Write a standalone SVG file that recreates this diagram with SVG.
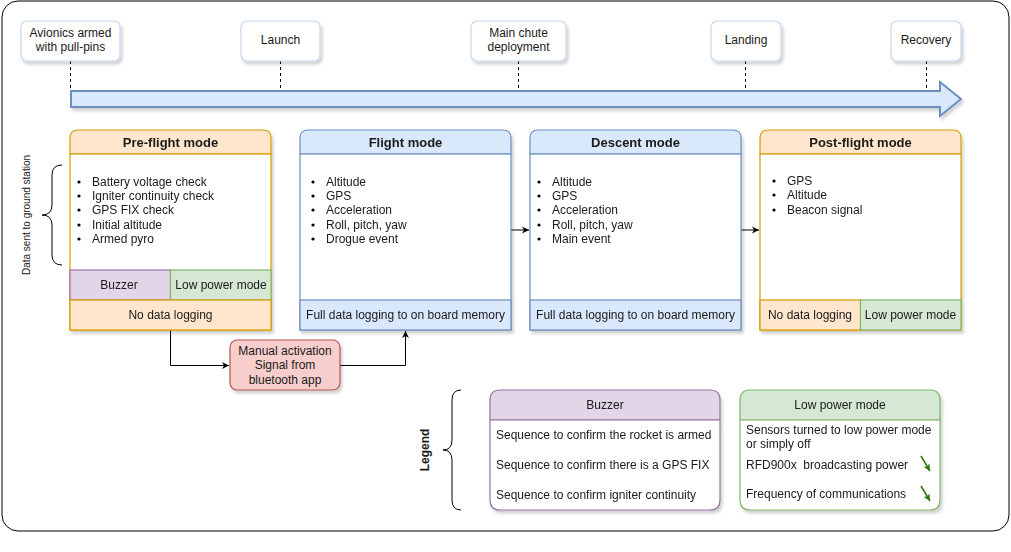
<svg xmlns="http://www.w3.org/2000/svg" width="1011" height="552" viewBox="0 0 1011 552">
<style>
text{font-family:"Liberation Sans",Arial,sans-serif;fill:#1a1a1a;font-size:12px}
.c{text-anchor:middle}
.t{font-weight:bold;font-size:13px;text-anchor:middle}
.ev{fill:#fff;stroke:#c5d9f1;stroke-width:1.2}
.o{fill:#ffe6cc;stroke:#d79b00;stroke-width:1.2}
.b{fill:#dae8fc;stroke:#6c8ebf;stroke-width:1.2}
.p{fill:#e1d5e7;stroke:#9673a6;stroke-width:1.2}
.g{fill:#d5e8d4;stroke:#82b366;stroke-width:1.2}
.dash{stroke:#000;stroke-dasharray:3,3;fill:none}
.ln{stroke:#000;fill:none;stroke-width:1}
</style>
<defs>
<filter id="sh" x="-10%" y="-10%" width="130%" height="130%">
<feDropShadow dx="2" dy="3" stdDeviation="1.5" flood-color="#000" flood-opacity="0.18"/>
</filter>
<marker id="ar" markerWidth="8" markerHeight="8" refX="7" refY="4" orient="auto" markerUnits="userSpaceOnUse">
<path d="M0,0.5 L7,4 L0,7.5 L2,4 Z" fill="#000"/>
</marker>
<marker id="ag" markerWidth="8" markerHeight="8" refX="7" refY="4" orient="auto" markerUnits="userSpaceOnUse">
<path d="M0,0.5 L7,4 L0,7.5 L2,4 Z" fill="#2d7600"/>
</marker>
</defs>
<rect x="2" y="1" width="1007" height="530" rx="16" fill="#fff" stroke="#000" stroke-width="1"/>

<g id="timeline">
<path d="M71,91 L940,91 L940,82 L961,99 L940,116 L940,107 L71,107 Z" fill="#dae8fc" stroke="#6c8ebf" stroke-width="2" filter="url(#sh)"/>
</g>

<g id="connectors">
<line class="dash" x1="70.5" y1="61" x2="70.5" y2="91"/>
<line class="dash" x1="280.5" y1="61" x2="280.5" y2="91"/>
<line class="dash" x1="518.5" y1="61" x2="518.5" y2="91"/>
<line class="dash" x1="745.5" y1="61" x2="745.5" y2="91"/>
<line class="dash" x1="926.5" y1="61" x2="926.5" y2="91"/>
<line class="ln" x1="510" y1="230" x2="529" y2="230" marker-end="url(#ar)"/>
<line class="ln" x1="740" y1="230" x2="759" y2="230" marker-end="url(#ar)"/>
<path class="ln" d="M170.5,330 L170.5,365.5 L229,365.5" marker-end="url(#ar)"/>
<path class="ln" d="M340,365.5 L405.5,365.5 L405.5,331" marker-end="url(#ar)"/>
<path class="ln" d="M62,165 Q52,165 52,175 L52,205 Q52,215 42,215 Q52,215 52,225 L52,255 Q52,265 62,265" stroke-width="1.8"/>
<path class="ln" d="M461,390 Q452,390 452,400 L452,440 Q452,450 443,450 Q452,450 452,460 L452,500 Q452,510 461,510" stroke-width="1"/>
</g>

<g id="ev-armed">
<rect class="ev" x="21" y="21" width="99" height="40" rx="6" filter="url(#sh)"/>
<text class="c" x="70.5" y="37">Avionics armed</text>
<text class="c" x="70.5" y="51">with pull-pins</text>
</g>
<g id="ev-launch">
<rect class="ev" x="241" y="21" width="79" height="40" rx="6" filter="url(#sh)"/>
<text class="c" x="280.5" y="44">Launch</text>
</g>
<g id="ev-main">
<rect class="ev" x="471" y="21" width="95" height="40" rx="6" filter="url(#sh)"/>
<text class="c" x="518.5" y="37">Main chute</text>
<text class="c" x="518.5" y="51">deployment</text>
</g>
<g id="ev-landing">
<rect class="ev" x="711" y="21" width="70" height="40" rx="6" filter="url(#sh)"/>
<text class="c" x="746" y="44">Landing</text>
</g>
<g id="ev-recovery">
<rect class="ev" x="891" y="21" width="70" height="40" rx="6" filter="url(#sh)"/>
<text class="c" x="926" y="44">Recovery</text>
</g>

<g id="preflight" filter="url(#sh)">
<path class="o" d="M70,154 L70,138 Q70,130 78,130 L263,130 Q271,130 271,138 L271,154 Z"/>
<rect x="70" y="154" width="201" height="176" fill="#fff" stroke="#d79b00" stroke-width="1.2"/>
<rect class="p" x="70" y="270" width="100.5" height="30"/>
<rect class="g" x="170.5" y="270" width="100.5" height="30"/>
<rect class="o" x="70" y="300" width="201" height="30"/>
<text class="t" x="170.5" y="147">Pre-flight mode</text>
<circle cx="79" cy="182" r="1.6" fill="#000"/><text x="92" y="186">Battery voltage check</text>
<circle cx="79" cy="196" r="1.6" fill="#000"/><text x="92" y="200">Igniter continuity check</text>
<circle cx="79" cy="210" r="1.6" fill="#000"/><text x="92" y="214">GPS FIX check</text>
<circle cx="79" cy="225" r="1.6" fill="#000"/><text x="92" y="229">Initial altitude</text>
<circle cx="79" cy="239" r="1.6" fill="#000"/><text x="92" y="243">Armed pyro</text>
<text class="c" x="119" y="289">Buzzer</text>
<text class="c" x="221" y="289">Low power mode</text>
<text class="c" x="170.5" y="319">No data logging</text>
</g>

<g id="flight" filter="url(#sh)">
<path class="b" d="M300,154 L300,138 Q300,130 308,130 L503,130 Q511,130 511,138 L511,154 Z"/>
<rect x="300" y="154" width="211" height="176" fill="#fff" stroke="#6c8ebf" stroke-width="1.2"/>
<rect class="b" x="300" y="300" width="211" height="30"/>
<text class="t" x="405.5" y="147">Flight mode</text>
<circle cx="313" cy="182" r="1.6" fill="#000"/><text x="326" y="186">Altitude</text>
<circle cx="313" cy="196" r="1.6" fill="#000"/><text x="326" y="200">GPS</text>
<circle cx="313" cy="210" r="1.6" fill="#000"/><text x="326" y="214">Acceleration</text>
<circle cx="313" cy="225" r="1.6" fill="#000"/><text x="326" y="229">Roll, pitch, yaw</text>
<circle cx="313" cy="239" r="1.6" fill="#000"/><text x="326" y="243">Drogue event</text>
<text class="c" x="405.5" y="319">Full data logging to on board memory</text>
</g>

<g id="descent" filter="url(#sh)">
<path class="b" d="M530,154 L530,138 Q530,130 538,130 L733,130 Q741,130 741,138 L741,154 Z"/>
<rect x="530" y="154" width="211" height="176" fill="#fff" stroke="#6c8ebf" stroke-width="1.2"/>
<rect class="b" x="530" y="300" width="211" height="30"/>
<text class="t" x="635.5" y="147">Descent mode</text>
<circle cx="539" cy="182" r="1.6" fill="#000"/><text x="552" y="186">Altitude</text>
<circle cx="539" cy="196" r="1.6" fill="#000"/><text x="552" y="200">GPS</text>
<circle cx="539" cy="210" r="1.6" fill="#000"/><text x="552" y="214">Acceleration</text>
<circle cx="539" cy="225" r="1.6" fill="#000"/><text x="552" y="229">Roll, pitch, yaw</text>
<circle cx="539" cy="239" r="1.6" fill="#000"/><text x="552" y="243">Main event</text>
<text class="c" x="635.5" y="319">Full data logging to on board memory</text>
</g>

<g id="postflight" filter="url(#sh)">
<path class="o" d="M760,154 L760,138 Q760,130 768,130 L953,130 Q961,130 961,138 L961,154 Z"/>
<rect x="760" y="154" width="201" height="176" fill="#fff" stroke="#d79b00" stroke-width="1.2"/>
<rect class="o" x="760" y="300" width="100.5" height="30"/>
<rect class="g" x="860.5" y="300" width="100.5" height="30"/>
<text class="t" x="860.5" y="147">Post-flight mode</text>
<circle cx="774" cy="181" r="1.6" fill="#000"/><text x="787" y="185">GPS</text>
<circle cx="774" cy="195" r="1.6" fill="#000"/><text x="787" y="199">Altitude</text>
<circle cx="774" cy="210" r="1.6" fill="#000"/><text x="787" y="214">Beacon signal</text>
<text class="c" x="810" y="319">No data logging</text>
<text class="c" x="910.5" y="319">Low power mode</text>
</g>

<g id="manual">
<rect x="230" y="340" width="110" height="50" rx="7" fill="#f8cecc" stroke="#b85450" stroke-width="1.2" filter="url(#sh)"/>
<text class="c" x="285" y="355">Manual activation</text>
<text class="c" x="285" y="369">Signal from</text>
<text class="c" x="285" y="384">bluetooth app</text>
</g>

<g id="datasent">
<text class="c" style="font-size:10px" transform="translate(30,215) rotate(-90)">Data sent to ground station</text>
</g>

<g id="legend-label">
<text class="c" style="font-weight:bold" transform="translate(429,450) rotate(-90)">Legend</text>
</g>

<g id="legend-buzzer" filter="url(#sh)">
<path class="p" d="M490,420 L490,400 Q490,390 500,390 L710,390 Q720,390 720,400 L720,420 Z"/>
<path d="M490,420 L490,500 Q490,510 500,510 L710,510 Q720,510 720,500 L720,420 Z" fill="#fff" stroke="#9673a6" stroke-width="1.2"/>
<text class="c" x="605" y="409">Buzzer</text>
<text x="496" y="439">Sequence to confirm the rocket is armed</text>
<text x="496" y="469">Sequence to confirm there is a GPS FIX</text>
<text x="496" y="499">Sequence to confirm igniter continuity</text>
</g>

<g id="legend-lowpower" filter="url(#sh)">
<path class="g" d="M740,420 L740,400 Q740,390 750,390 L930,390 Q940,390 940,400 L940,420 Z"/>
<path d="M740,420 L740,500 Q740,510 750,510 L930,510 Q940,510 940,500 L940,420 Z" fill="#fff" stroke="#82b366" stroke-width="1.2"/>
<text class="c" x="840" y="409">Low power mode</text>
<text x="746" y="434">Sensors turned to low power mode</text>
<text x="746" y="448">or simply off</text>
<text x="746" y="469" style="white-space:pre" xml:space="preserve">RFD900x  broadcasting power</text>
<text x="746" y="498">Frequency of communications</text>
<line x1="921" y1="456" x2="930" y2="471" stroke="#2d7600" stroke-width="1.5" marker-end="url(#ag)"/>
<line x1="921" y1="486" x2="930" y2="501" stroke="#2d7600" stroke-width="1.5" marker-end="url(#ag)"/>
</g>
</svg>
